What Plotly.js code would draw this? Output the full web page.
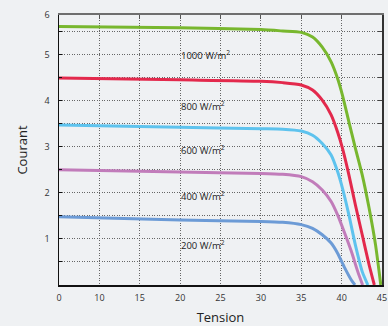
<!DOCTYPE html>
<html>
<head>
<meta charset="utf-8">
<script src="https://cdn.plot.ly/plotly-3.0.1.min.js"></script>
<style>
html,body{margin:0;padding:0;background:#eff1f3;}
#chart{width:388px;height:326px;}
</style>
</head>
<body>
<div id="chart"></div>
<script>
// Tension (V) / Courant (A) for each irradiance
var v1000 = [5, 20, 30, 32.7, 35.0, 36.4, 37.6, 38.7, 39.5, 40.1, 40.9, 41.7, 42.55, 43.4, 44.2, 44.85];
var i1000 = [5.61, 5.58, 5.54, 5.51, 5.48, 5.38, 5.16, 4.84, 4.48, 4.12, 3.54, 2.97, 2.39, 1.67, 0.87, 0];
var v800 = [5, 20, 30, 32.7, 35.0, 36.4, 37.6, 38.7, 39.5, 40.1, 40.9, 41.7, 42.55, 43.4, 44.05];
var i800 = [4.49, 4.45, 4.42, 4.39, 4.34, 4.23, 4.01, 3.69, 3.32, 2.97, 2.39, 1.74, 1.09, 0.44, 0];
var v600 = [5, 20, 30, 32.7, 35.0, 36.4, 37.6, 38.7, 39.5, 40.1, 40.9, 41.7, 42.55, 43.25];
var i600 = [3.47, 3.42, 3.39, 3.38, 3.34, 3.25, 3.07, 2.82, 2.46, 2.10, 1.52, 0.87, 0.29, 0];
var v400 = [5, 20, 30, 32.7, 35.0, 36.4, 37.6, 38.7, 39.5, 40.3, 41.2, 42.0, 42.6];
var i400 = [2.50, 2.45, 2.42, 2.40, 2.35, 2.24, 2.06, 1.81, 1.52, 1.16, 0.73, 0.29, 0];
var v200 = [5, 20, 30, 32.7, 35.0, 36.4, 37.6, 38.7, 39.5, 40.3, 41.2, 41.65];
var i200 = [1.48, 1.41, 1.38, 1.36, 1.31, 1.23, 1.09, 0.91, 0.69, 0.40, 0.11, 0];

var curveLabels = ['1000 W/m<sup>2</sup>', '800 W/m<sup>2</sup>', '600 W/m<sup>2</sup>', '400 W/m<sup>2</sup>', '200 W/m<sup>2</sup>'];
var labelY = [4.98, 3.88, 2.93, 1.94, 0.86];
var labelX = [19.8, 19.8, 19.8, 19.8, 19.8];

var xTickVals = [5, 10, 15, 20, 25, 30, 35, 40, 45];
var xTickText = ['0', '10', '15', '20', '25', '30', '35', '40', '45'];
var yTickVals = [1, 2, 3, 4, 5, 5.857];
var yTickText = ['1', '2', '3', '4', '5', '6'];
var yMinorVals = [0.5, 1.5, 2.5, 3.5, 4.5, 5.5];
var yAllVals = [0.5, 1, 1.5, 2, 2.5, 3, 3.5, 4, 4.5, 5, 5.5];

var colors = ['#78b72e', '#e3294c', '#5ec3ee', '#c17cba', '#6c9bd6'];
var xs = [v1000, v800, v600, v400, v200];
var ys = [i1000, i800, i600, i400, i200];

var traces = xs.map(function (x, k) {
  return {
    x: x, y: ys[k], type: 'scatter', mode: 'lines',
    line: {color: colors[k], width: 3, shape: 'spline', smoothing: 0.6},
    showlegend: false, hoverinfo: 'skip'
  };
});
traces.push({x: [], y: [], xaxis: 'x2', yaxis: 'y2', type: 'scatter', mode: 'lines', showlegend: false, hoverinfo: 'skip'});

var tickFont = {family: 'Open Sans, DejaVu Sans, sans-serif', size: 9, color: '#333'};
var gridCol = '#666';
var gridDash = '1px,1.5px';

var layout = {
  width: 388, height: 326,
  margin: {l: 59, r: 6, t: 15, b: 41, pad: 0},
  paper_bgcolor: '#eff1f3', plot_bgcolor: '#eff1f3',
  xaxis: {
    range: [5, 45], tickmode: 'array', tickvals: xTickVals, ticktext: xTickText,
    showgrid: true, gridcolor: gridCol, griddash: gridDash, gridwidth: 1,
    showline: true, linecolor: '#111', linewidth: 1.5, zeroline: false,
    ticks: '', tickfont: tickFont, ticklabelstandoff: 4, ticklabeloverflow: 'allow',
    title: {text: 'Tension', font: {family: 'Open Sans, sans-serif', size: 13, color: '#222'}, standoff: 10}
  },
  yaxis: {
    range: [0, 5.857], tickmode: 'array', tickvals: yTickVals, ticktext: yTickText,
    showgrid: true, gridcolor: gridCol, griddash: gridDash, gridwidth: 1,
    showline: true, linecolor: '#111', linewidth: 1.5, zeroline: false,
    ticks: 'inside', ticklen: 3, tickcolor: '#111', tickfont: tickFont, ticklabelstandoff: 6, ticklabeloverflow: 'allow',
    minor: {tickmode: 'array', tickvals: yMinorVals, showgrid: true, gridcolor: gridCol, griddash: gridDash, gridwidth: 1, ticks: 'inside', ticklen: 3, tickcolor: '#111'},
    title: {text: 'Courant', font: {family: 'Open Sans, sans-serif', size: 13, color: '#222'}, standoff: 14}
  },
  xaxis2: {
    overlaying: 'x', side: 'top', anchor: 'y2', range: [5, 45], tickmode: 'array', tickvals: xTickVals,
    showticklabels: false, ticks: 'inside', ticklen: 4, tickcolor: '#555', showgrid: false,
    showline: true, linecolor: '#6e6e6e', linewidth: 2, zeroline: false
  },
  yaxis2: {
    overlaying: 'y', side: 'right', anchor: 'x2', range: [0, 5.857], tickmode: 'array', tickvals: yAllVals,
    showticklabels: false, ticks: 'inside', ticklen: 4, tickcolor: '#444', showgrid: false,
    showline: true, linecolor: '#333', linewidth: 1.5, zeroline: false
  },
  annotations: curveLabels.map(function (t, k) {
    return {
      text: t, x: labelX[k], y: labelY[k], xref: 'x', yref: 'y',
      xanchor: 'left', yanchor: 'middle', showarrow: false,
      font: {family: 'Open Sans, sans-serif', size: 9.5, color: '#222'}
    };
  })
};

Plotly.newPlot('chart', traces, layout, {staticPlot: true, displayModeBar: false});
</script>
</body>
</html>
